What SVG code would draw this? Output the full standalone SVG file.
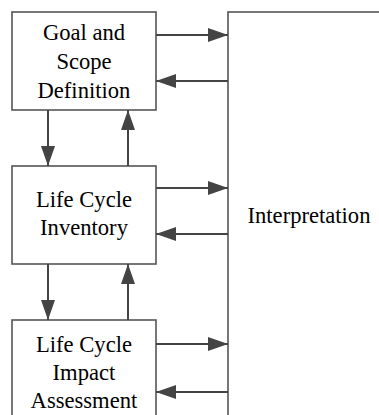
<svg xmlns="http://www.w3.org/2000/svg" width="379" height="415" viewBox="0 0 379 415">
<defs>
<style>
.box{fill:#fff;stroke:#555;stroke-width:1.6}
.con{stroke:#444;stroke-width:2;fill:none;marker-end:url(#ah)}
</style>
<marker id="ah" markerUnits="userSpaceOnUse" markerWidth="20" markerHeight="14" refX="20" refY="7" orient="auto">
<path d="M0,0 L20,7 L0,14 z" fill="#444"/>
</marker>
</defs>
<rect width="379" height="415" fill="#fff"/>
<g id="interpretation">
<rect class="box" x="228" y="12" width="200" height="500"/>
<text x="247.5" y="223" font-family="'Liberation Serif'" font-size="22.6">Interpretation</text>
</g>
<g id="goal">
<rect class="box" x="12" y="12" width="144" height="98"/>
<text x="42.9" y="40" font-family="'Liberation Serif'" font-size="22.6">Goal and</text>
<text x="56.4" y="69" font-family="'Liberation Serif'" font-size="22.6">Scope</text>
<text x="37.5" y="98" font-family="'Liberation Serif'" font-size="22.6">Definition</text>
</g>
<g id="inventory">
<rect class="box" x="12" y="166" width="144" height="98"/>
<text x="36" y="207" font-family="'Liberation Serif'" font-size="22.6">Life Cycle</text>
<text x="40.1" y="235" font-family="'Liberation Serif'" font-size="22.6">Inventory</text>
</g>
<g id="impact">
<rect class="box" x="12" y="320" width="144" height="100"/>
<text x="36" y="352" font-family="'Liberation Serif'" font-size="22.6">Life Cycle</text>
<text x="52.6" y="380" font-family="'Liberation Serif'" font-size="22.6">Impact</text>
<text x="30.6" y="408" font-family="'Liberation Serif'" font-size="22.6">Assessment</text>
</g>
<g id="connectors">
<line class="con" x1="156" y1="35" x2="228" y2="35"/>
<line class="con" x1="228" y1="81" x2="156" y2="81"/>
<line class="con" x1="156" y1="188" x2="228" y2="188"/>
<line class="con" x1="228" y1="234" x2="156" y2="234"/>
<line class="con" x1="156" y1="344" x2="228" y2="344"/>
<line class="con" x1="228" y1="392" x2="156" y2="392"/>
<line class="con" x1="48" y1="110" x2="48" y2="166"/>
<line class="con" x1="128" y1="166" x2="128" y2="110"/>
<line class="con" x1="48" y1="264" x2="48" y2="320"/>
<line class="con" x1="128" y1="320" x2="128" y2="264"/>
</g>
</svg>
